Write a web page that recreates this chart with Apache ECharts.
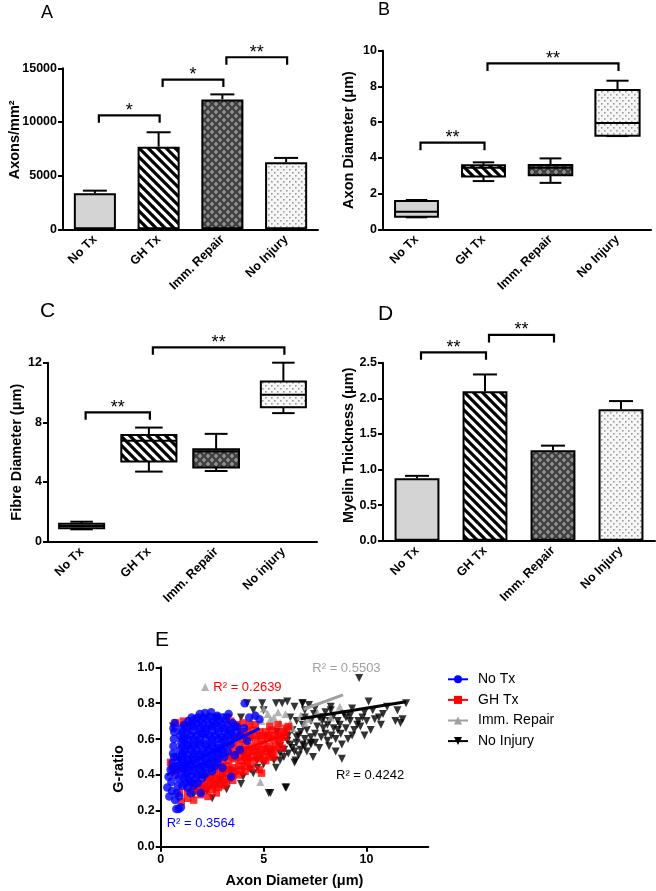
<!DOCTYPE html>
<html><head><meta charset="utf-8">
<script src="https://cdn.jsdelivr.net/npm/echarts@6/dist/echarts.min.js"></script>
<style>html,body{margin:0;padding:0;background:#fff}#c{width:656px;height:891px}</style>
</head><body><div id="c"></div>
<script>
// ---------------- DATA ----------------
const groups  = ['No Tx', 'GH Tx', 'Imm. Repair', 'No Injury'];
const groupsC = ['No Tx', 'GH Tx', 'Imm. Repair', 'No injury'];

// A: axons / mm^2 (mean, SEM)
const axonDensity    = [3350, 7700, 12100, 6250];
const axonDensitySem = [250, 1340, 470, 400];
const sigPairsA  = [[0, 1], [1, 2], [2, 3]];
const sigLevelsA = [10620, 13950, 16030];
const sigTextA   = ['*', '*', '**'];

// B: axon diameter box plots [min, q1, median, q3, max]
const axonDiamBox = [
  [0.67, 0.70, 0.98, 1.58, 1.64],
  [2.70, 2.95, 3.45, 3.58, 3.75],
  [2.60, 3.02, 3.45, 3.60, 3.97],
  [5.22, 5.24, 5.95, 7.80, 8.32]
];
const sigPairsB  = [[0, 1], [1, 3]];
const sigLevelsB = [4.85, 9.29];
const sigTextB   = ['**', '**'];

// C: fibre diameter box plots
const fibreDiamBox = [
  [0.83, 0.90, 1.05, 1.20, 1.34],
  [4.70, 5.37, 6.76, 7.16, 7.65],
  [4.74, 4.97, 6.04, 6.20, 7.23],
  [8.62, 9.02, 9.85, 10.74, 12.00]
];
const sigPairsC  = [[0, 1], [1, 3]];
const sigLevelsC = [8.67, 13.03];
const sigTextC   = ['**', '**'];

// D: myelin thickness (mean, SEM)
const myelin    = [0.876, 2.10, 1.27, 1.846];
const myelinSem = [0.035, 0.235, 0.065, 0.115];
const sigPairsD  = [[0, 1], [1, 2]];
const sigLevelsD = [2.646, 2.89];
const sigTextD   = ['**', '**'];

// E: G-ratio vs axon diameter
const noTxPts = [
  [0.32,0.33],[0.38,0.39],[0.42,0.28],[0.48,0.43],[0.52,0.36],[0.55,0.31],[0.58,0.47],[0.6,0.52],[0.62,0.56],[0.64,0.6],
  [0.66,0.64],[0.68,0.69],[0.62,0.66],[0.7,0.26],[0.76,0.21],[0.88,0.21],[0.98,0.22],[0.78,0.3],[0.84,0.34],[0.72,0.4],
  [0.76,0.45],[0.8,0.5],[0.88,0.38],[0.9,0.28],[0.65,0.5],[0.62,0.44],
  [1.9,0.74],[2.15,0.745],[2.45,0.75],[2.75,0.73],
  [1.35,0.7],[1.65,0.71],[1.95,0.7],[2.25,0.71],[2.55,0.7],[2.85,0.7],[3.15,0.71],[3.5,0.69],
  [1.0,0.66],[1.3,0.66],[1.6,0.67],[1.9,0.66],[2.2,0.66],[2.5,0.67],[2.8,0.66],[3.1,0.66],[3.4,0.65],[3.7,0.67],
  [0.95,0.62],[1.15,0.61],[1.45,0.62],[1.75,0.62],[2.05,0.63],[2.35,0.62],[2.65,0.62],[2.95,0.61],[3.25,0.62],[3.55,0.61],[3.85,0.62],
  [1.0,0.58],[1.3,0.57],[1.6,0.58],[1.9,0.58],[2.2,0.57],[2.5,0.58],[2.8,0.57],[3.1,0.58],[3.4,0.57],
  [0.95,0.54],[1.15,0.53],[1.45,0.54],[1.75,0.54],[2.05,0.53],[2.35,0.54],[2.65,0.53],[2.95,0.54],[3.25,0.53],
  [1.0,0.5],[1.3,0.49],[1.6,0.5],[1.9,0.5],[2.2,0.49],[2.5,0.5],[2.8,0.49],[3.1,0.5],
  [0.95,0.46],[1.15,0.45],[1.45,0.46],[1.75,0.46],[2.05,0.45],[2.35,0.46],[2.65,0.45],
  [1.0,0.42],[1.3,0.41],[1.6,0.42],[1.9,0.42],[2.2,0.41],[2.5,0.42],
  [1.1,0.38],[1.4,0.37],[1.7,0.38],[2.0,0.38],
  [1.05,0.34],[1.3,0.33],[1.6,0.34],
  [4.08,0.8],[3.3,0.74],[4.3,0.72],[4.6,0.73],[4.8,0.71],[4.2,0.59],[3.42,0.39],[3.6,0.51],[3.85,0.54],[4.05,0.66],
  [3.0,0.44],[1.95,0.3],[1.45,0.3],
  [1.5,0.72],[1.8,0.72],[2.1,0.72],[2.4,0.725],[2.7,0.72],[3.0,0.72],
  [1.15,0.68],[1.45,0.68],[1.75,0.685],[2.05,0.68],[2.35,0.68],[2.65,0.685],[2.95,0.68],[3.25,0.68],[3.6,0.67],
  [1.05,0.64],[1.3,0.64],[1.6,0.645],[1.9,0.64],[2.2,0.64],[2.5,0.645],[2.8,0.64],[3.1,0.64],[3.4,0.635],[3.7,0.64],
  [1.05,0.6],[1.3,0.6],[1.6,0.6],[1.9,0.6],[2.2,0.605],[2.5,0.6],[2.8,0.6],[3.1,0.6],[3.4,0.6],
  [1.05,0.56],[1.3,0.56],[1.6,0.56],[1.9,0.565],[2.2,0.56],[2.5,0.56],[2.8,0.55],[3.1,0.56],
  [1.05,0.52],[1.3,0.515],[1.6,0.52],[1.9,0.52],[2.2,0.52],[2.5,0.52],[2.8,0.52],[3.0,0.52],
  [1.05,0.48],[1.3,0.48],[1.6,0.48],[1.9,0.48],[2.2,0.475],[2.5,0.48],[2.75,0.47],
  [1.05,0.44],[1.3,0.44],[1.6,0.44],[1.9,0.44],[2.2,0.44],[2.45,0.44],
  [1.2,0.4],[1.5,0.395],[1.8,0.4],[2.1,0.4],
  [1.2,0.355],[1.5,0.36],[1.8,0.355]
];
const ghTxPts = [
  [0.48,0.47],[0.72,0.69],[1.1,0.7],[1.5,0.7],[1.0,0.25],[0.55,0.44],[0.9,0.3],[1.2,0.45],[4.9,0.41],[5.5,0.5],[3.4,0.7],[2.7,0.3],
  [1.4,0.36],[1.7,0.35],[2.0,0.35],[2.3,0.36],[2.6,0.36],[2.9,0.35],[3.2,0.36],[3.5,0.37],
  [1.3,0.31],[1.6,0.32],[1.9,0.31],[2.2,0.32],[2.5,0.32],[2.8,0.33],[3.1,0.34],
  [1.3,0.27],[1.6,0.26],[1.95,0.29],[2.3,0.28],
  [2.0,0.4],[2.3,0.39],[2.6,0.4],[2.9,0.4],[3.2,0.41],[3.5,0.41],[3.8,0.4],[4.1,0.42],
  [2.6,0.44],[2.9,0.44],[3.2,0.45],[3.5,0.44],[3.8,0.45],[4.1,0.45],[4.4,0.44],[4.8,0.43],
  [3.0,0.48],[3.3,0.48],[3.6,0.49],[3.9,0.48],[4.2,0.49],[4.5,0.48],[4.8,0.49],[5.1,0.48],
  [3.3,0.52],[3.6,0.52],[3.9,0.53],[4.2,0.52],[4.5,0.53],[4.8,0.52],[5.1,0.53],[5.4,0.52],
  [3.5,0.56],[3.8,0.56],[4.1,0.57],[4.4,0.56],[4.7,0.56],[5.0,0.57],[5.3,0.56],[5.6,0.56],[5.9,0.55],
  [3.7,0.6],[4.0,0.6],[4.3,0.61],[4.6,0.6],[4.9,0.6],[5.2,0.61],[5.5,0.6],[5.8,0.6],[6.05,0.61],
  [3.9,0.64],[4.2,0.64],[4.5,0.65],[4.8,0.64],[5.1,0.64],[5.4,0.65],[5.7,0.64],[6.0,0.64],
  [3.7,0.68],[4.0,0.69],[4.3,0.68],[4.6,0.68],[5.3,0.67],[5.7,0.68],[6.2,0.67],[6.1,0.66],
  [4.05,0.62],[4.35,0.62],[4.65,0.62],[4.95,0.62],[5.25,0.62],[5.55,0.62],[5.85,0.62],
  [4.0,0.54],[4.3,0.54],[4.6,0.54],[4.9,0.54],[5.2,0.545],[5.5,0.54],[5.75,0.58],
  [3.5,0.5],[3.8,0.5],[4.1,0.5],[4.4,0.5],[4.7,0.505],[5.0,0.5],[5.3,0.5],
  [3.0,0.42],[3.3,0.43],[3.6,0.42],[3.9,0.43],[4.2,0.47],[2.4,0.38],[2.7,0.38],[3.0,0.38],[3.3,0.38],
  [1.8,0.33],[2.1,0.335],[2.4,0.34],[2.7,0.345]
];
const immRepairPts = [
  [2.16,0.89],[4.84,0.36],[8.7,0.78],[5.33,0.71],[6.06,0.74],[6.8,0.73],[6.4,0.66],[5.5,0.72],[6.0,0.66],[4.6,0.74],
  [8.26,0.72],[5.0,0.77],[7.2,0.71],[5.8,0.69],[4.9,0.7],[7.6,0.75],[5.2,0.74],[5.7,0.75],[6.3,0.69],[4.4,0.7],
  [3.8,0.6],[2.6,0.56],[1.6,0.52],[3.0,0.46],[1.2,0.6],[2.1,0.63],[4.2,0.67],[1.3,0.42],[3.3,0.66],[7.0,0.69]
];
const noInjuryPts = [
  [9.64,0.94],[10.1,0.81],[11.92,0.8],[11.0,0.78],[11.5,0.76],[11.4,0.7],[11.65,0.69],[11.75,0.71],[10.7,0.68],[9.7,0.67],
  [8.8,0.49],[9.2,0.7],[8.26,0.78],[6.9,0.8],[6.15,0.81],[5.6,0.8],[5.0,0.76],[3.2,0.72],[3.9,0.72],[4.5,0.76],
  [5.25,0.3],[6.1,0.33],[8.1,0.59],[7.6,0.67],[6.6,0.61],[6.5,0.47],[5.8,0.48],[6.8,0.54],[8.75,0.63],[9.4,0.65],
  [8.6,0.7],[7.45,0.74],[6.3,0.72],[5.65,0.64],[5.0,0.46],[4.35,0.43],[3.9,0.35],[2.25,0.31],[1.6,0.29],[0.6,0.67],
  [6.15,0.59],[7.1,0.65],[7.85,0.7],[9.1,0.6],[9.55,0.68],[10.4,0.71],[7.3,0.57],[6.4,0.65],[5.8,0.56],[5.3,0.52],
  [4.7,0.44],[3.4,0.42],[2.9,0.37],[4.0,0.51],[4.93,0.8],[5.9,0.8],[6.88,0.8],[4.68,0.48],[5.33,0.3],[6.06,0.33],
  [6.55,0.48],[5.98,0.5],[8.18,0.56],[7.28,0.58],[8.26,0.76],[7.0,0.76],[7.5,0.77],[8.0,0.75],[8.9,0.74],[9.3,0.77],
  [9.9,0.75],[10.3,0.76],[10.8,0.74],[7.9,0.72],[8.4,0.73],[9.0,0.72],[9.8,0.72],[10.0,0.7],[6.9,0.68],[7.3,0.7],
  [8.1,0.68],[8.4,0.66],[9.0,0.66],[10.2,0.65],[6.8,0.64],[7.5,0.63],[8.0,0.63],[9.9,0.62],[6.6,0.58],[7.0,0.6],
  [7.8,0.61],[8.5,0.6],[6.4,0.55],[6.9,0.57],[7.7,0.55],[6.2,0.52],[6.7,0.51],[7.1,0.53],[5.5,0.48],[4.2,0.8],
  [2.7,0.72],[3.28,0.716],[4.0,0.39],[4.5,0.41],[5.6,0.44],[3.2,0.32],[8.5,0.53],[7.4,0.5],[1.1,0.67],[0.9,0.48],[2.5,0.27],
  [6.5,0.78],[7.2,0.79],[7.7,0.72],[8.2,0.7],[8.7,0.68],[9.2,0.73],[9.6,0.7],[10.6,0.72],[6.6,0.7],[7.0,0.72],
  [7.9,0.66],[8.6,0.65],[9.3,0.62],[6.2,0.62],[6.7,0.62],[7.3,0.61],[8.3,0.62],[8.8,0.57],[6.3,0.57],[7.0,0.56],
  [7.5,0.58],[6.0,0.54],[6.5,0.53],[5.8,0.52]
];
const noTxFit      = [[0.3, 0.40], [4.8, 0.66]];
const ghTxFit      = [[0.5, 0.40], [6.2, 0.63]];
const immRepairFit = [[6.94, 0.766], [8.86, 0.846]];
const noInjuryFit  = [[6.8, 0.713], [11.92, 0.808]];
const r2Text = ['R² = 0.3564', 'R² = 0.2639', 'R² = 0.5503', 'R² = 0.4242'];

// ---------------- STYLE HELPERS ----------------
const FF = '"Liberation Sans", Arial, Helvetica, sans-serif';
function mkCanvas(w, h, draw) { const c = document.createElement('canvas'); c.width = w; c.height = h; draw(c.getContext('2d')); return c; }
const patStripes = { image: mkCanvas(9, 9, g => {
  g.fillStyle = '#fff'; g.fillRect(0, 0, 9, 9); g.strokeStyle = '#000'; g.lineWidth = 3.2; g.beginPath();
  for (const k of [-1, 0, 1]) { g.moveTo(k * 9 - 1, -1); g.lineTo(k * 9 + 10, 10); } g.stroke(); }), repeat: 'repeat' };
const patDiamond = { image: mkCanvas(8, 8, g => {
  g.fillStyle = '#3e3e3e'; g.fillRect(0, 0, 8, 8); g.fillStyle = '#8e8e8e';
  const d = (cx, cy, r) => { g.beginPath(); g.moveTo(cx, cy - r); g.lineTo(cx + r, cy); g.lineTo(cx, cy + r); g.lineTo(cx - r, cy); g.closePath(); g.fill(); };
  d(4, 4, 2.4); d(0, 0, 2.4); d(8, 0, 2.4); d(0, 8, 2.4); d(8, 8, 2.4); }), repeat: 'repeat' };
const patDots = { image: mkCanvas(6, 6, g => {
  g.fillStyle = '#f6f6f6'; g.fillRect(0, 0, 6, 6); g.fillStyle = '#9c9c9c';
  g.fillRect(1, 1, 1.6, 1.6); g.fillRect(4, 4, 1.6, 1.6); }), repeat: 'repeat' };
const fills = ['#d4d4d4', patStripes, patDiamond, patDots];

const LS = { color: '#000', width: 2 };
function catX(gi, cats) {
  return { type: 'category', gridIndex: gi, data: cats,
    axisLine: { lineStyle: LS }, axisTick: { alignWithLabel: true, length: 5, lineStyle: LS },
    axisLabel: { rotate: 45, margin: 8, interval: 0, color: '#000', fontWeight: 'bold', fontSize: 12.5, fontFamily: FF } };
}
function valY(gi, min, max, interval, name, nameGap, pad, fmt) {
  return { type: 'value', gridIndex: gi, min, max, interval, name, nameLocation: 'middle', nameGap, nameMoveOverlap: false,
    nameTextStyle: { color: '#000', fontWeight: 'bold', fontSize: 14.5, fontFamily: FF, padding: pad },
    axisLine: { show: true, lineStyle: LS }, axisTick: { show: true, length: 5, lineStyle: LS },
    splitLine: { show: false },
    axisLabel: { margin: 6, color: '#000', fontWeight: 'bold', fontSize: 12.5, fontFamily: FF, formatter: fmt || (v => String(v)) } };
}
function barSeries(gi, vals) {
  return { type: 'bar', xAxisIndex: gi, yAxisIndex: gi, barWidth: '66%', silent: true,
    data: vals.map((v, i) => ({ value: v, itemStyle: { color: fills[i] } })),
    itemStyle: { borderColor: '#000', borderWidth: 2 } };
}
function errSeries(gi, vals, sems) {
  return { type: 'custom', xAxisIndex: gi, yAxisIndex: gi, silent: true,
    data: vals.map((v, i) => [i, v, v + sems[i]]), encode: { x: 0, y: [1, 2] },
    renderItem(params, api) {
      const p0 = api.coord([api.value(0), api.value(1)]), p1 = api.coord([api.value(0), api.value(2)]);
      const st = { stroke: '#000', lineWidth: 2 };
      return { type: 'group', children: [
        { type: 'line', shape: { x1: p0[0], y1: p0[1], x2: p1[0], y2: p1[1] }, style: st },
        { type: 'line', shape: { x1: p1[0] - 12, y1: p1[1], x2: p1[0] + 12, y2: p1[1] }, style: st } ] };
    } };
}
function boxSeries(gi, stats, widths) {
  return { type: 'custom', xAxisIndex: gi, yAxisIndex: gi, silent: true,
    data: stats.map((s, i) => [i].concat(s)), encode: { x: 0, y: [1, 2, 3, 4, 5] },
    renderItem(params, api) {
      const i = api.value(0);
      const bw = api.size([1, 0])[0] * widths[i];
      const c = k => api.coord([i, api.value(k)]);
      const pMin = c(1), pQ1 = c(2), pMed = c(3), pQ3 = c(4), pMax = c(5);
      const cx = pMed[0], hw = bw / 2, cw = bw / 4, st = { stroke: '#000', lineWidth: 2 };
      return { type: 'group', children: [
        { type: 'line', shape: { x1: cx, y1: pMax[1], x2: cx, y2: pQ3[1] }, style: st },
        { type: 'line', shape: { x1: cx, y1: pQ1[1], x2: cx, y2: pMin[1] }, style: st },
        { type: 'line', shape: { x1: cx - cw, y1: pMax[1], x2: cx + cw, y2: pMax[1] }, style: st },
        { type: 'line', shape: { x1: cx - cw, y1: pMin[1], x2: cx + cw, y2: pMin[1] }, style: st },
        { type: 'rect', shape: { x: cx - hw, y: pQ3[1], width: bw, height: pQ1[1] - pQ3[1] }, style: { fill: fills[i], stroke: '#000', lineWidth: 2 } },
        { type: 'line', shape: { x1: cx - hw, y1: pMed[1], x2: cx + hw, y2: pMed[1] }, style: st } ] };
    } };
}
function sigSeries(gi, pairs, levels, texts) {
  return { type: 'custom', xAxisIndex: gi, yAxisIndex: gi, silent: true, clip: false,
    data: pairs.map((p, k) => [p[0], p[1], levels[k]]), encode: { x: [0, 1], y: 2 },
    renderItem(params, api) {
      const a = api.coord([api.value(0), api.value(2)]), b = api.coord([api.value(1), api.value(2)]);
      const x1 = a[0] + 4, x2 = b[0] + 1, y = a[1], leg = 7.5;
      return { type: 'group', children: [
        { type: 'polyline', shape: { points: [[x1, y + leg], [x1, y], [x2, y], [x2, y + leg]] }, style: { stroke: '#000', lineWidth: 2.2, fill: 'none' } },
        { type: 'text', style: { text: texts[params.dataIndex], x: (x1 + x2) / 2, y: y - 4.5, align: 'center', verticalAlign: 'middle', fontSize: 18, fontFamily: FF, fill: '#000' } } ] };
    } };
}
function letter(t, x, y, fs) {
  return { type: 'text', left: x, top: y, silent: true, style: { text: t, fontSize: fs, fontFamily: FF, fill: '#000' } };
}
function r2(t, x, y, col) {
  return { type: 'text', x, y, silent: true, style: { text: t, fontSize: 13, fontFamily: FF, fill: col, verticalAlign: 'middle' } };
}
const f1 = v => v.toFixed(1);

const option = {
  animation: false,
  backgroundColor: '#fff',
  grid: [
    { left: 63, top: 68.3, width: 255, height: 161, outerBoundsMode: 'none' },
    { left: 383, top: 50.7, width: 268, height: 178.6, outerBoundsMode: 'none' },
    { left: 48, top: 362.7, width: 269, height: 179, outerBoundsMode: 'none' },
    { left: 383, top: 362.7, width: 272, height: 178, outerBoundsMode: 'none' },
    { left: 160.7, top: 667.3, width: 267.6, height: 179.4, outerBoundsMode: 'none' }
  ],
  xAxis: [
    catX(0, groups), catX(1, groups), catX(2, groupsC), catX(3, groups),
    { type: 'value', gridIndex: 4, min: 0, max: 13, interval: 5, name: 'Axon Diameter (μm)', nameLocation: 'middle', nameGap: 27, nameMoveOverlap: false,
      nameTextStyle: { color: '#000', fontWeight: 'bold', fontSize: 14.5, fontFamily: FF },
      axisLine: { lineStyle: LS }, axisTick: { length: 5, lineStyle: LS, customValues: [0, 5, 10] }, splitLine: { show: false },
      axisLabel: { margin: 6, color: '#000', fontWeight: 'bold', fontSize: 12.5, fontFamily: FF, customValues: [0, 5, 10] } }
  ],
  yAxis: [
    valY(0, 0, 15000, 5000, 'Axons/mm²', 41, [0, 0, 0, 18]),
    valY(1, 0, 10, 2, 'Axon Diameter (μm)', 27, 0),
    valY(2, 0, 12, 4, 'Fibre Diameter (μm)', 23.5, 0),
    valY(3, 0, 2.5, 0.5, 'Myelin Thickness (μm)', 27, [0, 0, 0, 13], f1),
    valY(4, 0, 1, 0.2, 'G-ratio', 34, [0, 24, 0, 0], f1)
  ],
  legend: {
    left: 447, top: 672.3, orient: 'vertical', itemWidth: 20, itemHeight: 10, itemGap: 6.6, padding: 0,
    selectedMode: false, data: groups,
    textStyle: { color: '#000', fontSize: 14, fontFamily: FF, padding: [0, 0, 0, 5] }
  },
  graphic: [
    letter('A', 41, 3.6, 18), letter('B', 378, 0.9, 18), letter('C', 40, 301.2, 21),
    letter('D', 378, 303.9, 21), letter('E', 155, 630.2, 21),
    r2(r2Text[0], 166.7, 823.3, '#0000ff'), r2(r2Text[1], 213.3, 687.7, '#ff0000'),
    r2(r2Text[2], 312.3, 668.3, '#a0a0a0'), r2(r2Text[3], 336, 775.3, '#000')
  ],
  series: [
    barSeries(0, axonDensity), errSeries(0, axonDensity, axonDensitySem), sigSeries(0, sigPairsA, sigLevelsA, sigTextA),
    boxSeries(1, axonDiamBox, [0.64, 0.64, 0.65, 0.66]), sigSeries(1, sigPairsB, sigLevelsB, sigTextB),
    boxSeries(2, fibreDiamBox, [0.67, 0.82, 0.68, 0.67]), sigSeries(2, sigPairsC, sigLevelsC, sigTextC),
    barSeries(3, myelin), errSeries(3, myelin, myelinSem), sigSeries(3, sigPairsD, sigLevelsD, sigTextD),
    // E
    { type: 'scatter', name: 'No Injury pts', xAxisIndex: 4, yAxisIndex: 4, z: 1, data: noInjuryPts, symbol: 'triangle', symbolRotate: 180, symbolSize: 8, itemStyle: { color: '#000' }, silent: true },
    { type: 'scatter', name: 'Imm. Repair pts', xAxisIndex: 4, yAxisIndex: 4, z: 2, data: immRepairPts, symbol: 'triangle', symbolSize: 8, itemStyle: { color: '#a0a0a0' }, silent: true },
    { type: 'line', name: 'GH Tx', xAxisIndex: 4, yAxisIndex: 4, z: 3, data: ghTxFit, symbol: 'rect', showSymbol: false, lineStyle: { width: 3, color: '#ff0000' }, itemStyle: { color: '#ff0000' }, silent: true },
    { type: 'scatter', name: 'GH Tx pts', xAxisIndex: 4, yAxisIndex: 4, z: 4, data: ghTxPts, symbol: 'rect', symbolSize: 7.5, itemStyle: { color: '#ff0000' }, silent: true },
    { type: 'line', name: 'No Tx', xAxisIndex: 4, yAxisIndex: 4, z: 5, data: noTxFit, symbol: 'circle', showSymbol: false, lineStyle: { width: 3, color: '#0000ff' }, itemStyle: { color: '#0000ff' }, silent: true },
    { type: 'scatter', name: 'No Tx pts', xAxisIndex: 4, yAxisIndex: 4, z: 6, data: noTxPts, symbol: 'circle', symbolSize: 8.5, itemStyle: { color: '#0000ff' }, silent: true },
    { type: 'line', name: 'Imm. Repair', xAxisIndex: 4, yAxisIndex: 4, z: 7, data: immRepairFit, symbol: 'triangle', showSymbol: false, lineStyle: { width: 3, color: '#a0a0a0' }, itemStyle: { color: '#a0a0a0' }, silent: true },
    { type: 'line', name: 'No Injury', xAxisIndex: 4, yAxisIndex: 4, z: 8, data: noInjuryFit, symbol: 'triangle', symbolRotate: 180, showSymbol: false, lineStyle: { width: 3, color: '#000' }, itemStyle: { color: '#000' }, silent: true }
  ]
};
const chart = echarts.init(document.getElementById('c'), null, { renderer: 'canvas' });
chart.setOption(option);
</script>
</body></html>
